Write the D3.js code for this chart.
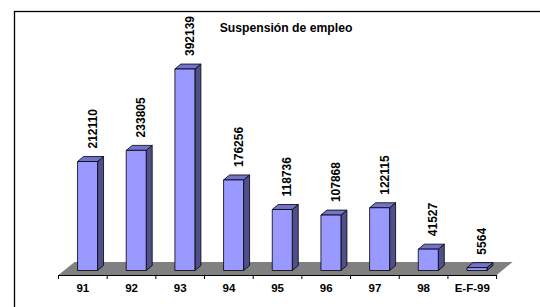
<!DOCTYPE html>
<html><head><meta charset="utf-8">
<script src="https://cdn.jsdelivr.net/npm/d3@7"></script>
<style>body{margin:0;background:#fff}svg{display:block}</style>
</head><body>
<svg id="c" width="540" height="307"></svg>
<script>
const categories = ["91","92","93","94","95","96","97","98","E-F-99"];
const values = [212110,233805,392139,176256,118736,107868,122115,41527,5564];
const title = "Suspensión de empleo";

const svg = d3.select("#c");
const font = "'Liberation Sans', Arial, sans-serif";

// outer border (extends beyond view on right/bottom)
svg.append("rect").attr("x",14.5).attr("y",11.5).attr("width",700).attr("height",500)
  .attr("fill","none").attr("stroke","#000").attr("stroke-width",1.3);

const x = d3.scaleBand().domain(categories).range([58.5,496.6]).padding(0);
const y = d3.scaleLinear().domain([0,400000]).range([270.5,65.0]);

const frontY = 275;
const floorD = [16,-13];
const barOff = [4.7,-4.5];
const barD = [6,-5];
const barW = 20;

// floor
const x0 = x.range()[0], x1 = x.range()[1];
svg.append("polygon")
  .attr("points",[[x0,frontY],[x1,frontY],[x1+floorD[0],frontY+floorD[1]],[x0+floorD[0],frontY+floorD[1]]].map(p=>p.join(",")).join(" "))
  .attr("fill","#808080");

// bars
const g = svg.append("g");
categories.forEach((c,i)=>{
  const cx = x(c)+x.bandwidth()/2 + barOff[0];
  const l = cx - barW/2, r = cx + barW/2;
  const b = y(0), t = y(values[i]);
  const bg = g.append("g").attr("stroke","#000").attr("stroke-width",0.8).attr("stroke-linejoin","round");
  bg.append("polygon").attr("points",[[r,b],[r+barD[0],b+barD[1]],[r+barD[0],t+barD[1]],[r,t]].map(p=>p.join(",")).join(" "))
    .attr("fill","#4f4f8c");
  bg.append("polygon").attr("points",[[l,t],[r,t],[r+barD[0],t+barD[1]],[l+barD[0],t+barD[1]]].map(p=>p.join(",")).join(" "))
    .attr("fill","#7373cc");
  bg.append("rect").attr("x",l).attr("y",t).attr("width",barW).attr("height",b-t).attr("fill","#9999ff");
  // data label
  svg.append("text")
    .attr("transform",`translate(${x(c)+x.bandwidth()/2+9.5},${t-13}) rotate(-90)`)
    .attr("dy","0.35em").attr("text-anchor","start")
    .attr("font-family",font).attr("font-weight","bold").attr("font-size",12)
    .text(values[i]);
});

// axis front line and ticks
const axis = d3.axisBottom(x).tickSize(0).tickSizeOuter(0);
const ag = svg.append("g").attr("transform",`translate(0,${frontY})`).call(axis);
ag.select(".domain").attr("stroke","#000").attr("stroke-width",1.2);
ag.selectAll(".tick text").attr("font-family",font).attr("font-weight","bold").attr("font-size",11.5)
  .attr("fill","#000").attr("dy",0).attr("y",16.5);
const bounds = categories.map(c=>x(c)).concat([x1]);
ag.selectAll(".bt").data(bounds).enter().append("line").attr("class","bt")
  .attr("x1",d=>d).attr("x2",d=>d).attr("y1",0).attr("y2",4).attr("stroke","#000").attr("stroke-width",1);

// title
svg.append("text").attr("x",286).attr("y",31.5).attr("text-anchor","middle")
  .attr("font-family",font).attr("font-weight","bold").attr("font-size",12.2).text(title);
</script>
</body></html>
